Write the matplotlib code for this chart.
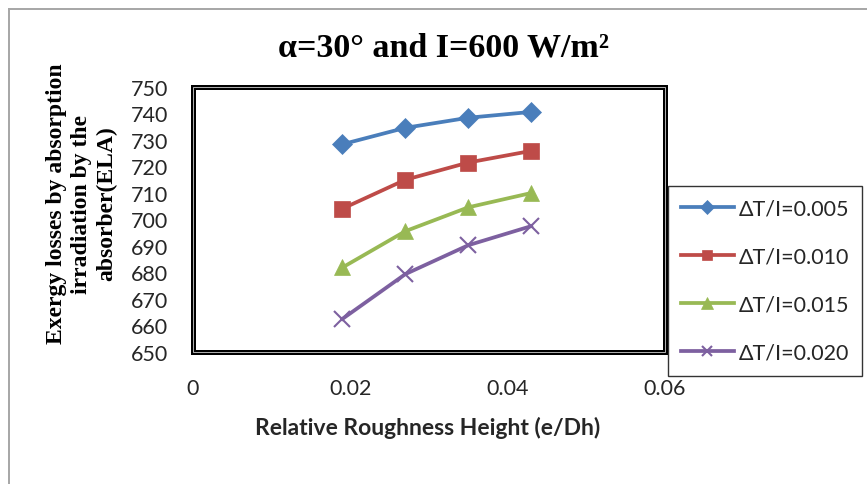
import matplotlib
matplotlib.use("Agg")
import matplotlib.pyplot as plt
from matplotlib.lines import Line2D
from matplotlib.patches import Rectangle

# ── Data ─────────────────────────────────────────────────────────
ROUGHNESS = [0.019, 0.027, 0.035, 0.043]

ELA_0005 = [728.4, 734.6, 738.4, 740.6]
ELA_0010 = [704.1, 715.0, 721.5, 725.9]
ELA_0015 = [681.9, 695.6, 704.6, 710.0]
ELA_0020 = [662.5, 679.4, 690.3, 697.5]

SERIES_LABELS = ['ΔT/I=0.005', 'ΔT/I=0.010', 'ΔT/I=0.015', 'ΔT/I=0.020']
X_TICKS = [0, 0.02, 0.04, 0.06]
X_TICK_LABELS = ['0', '0.02', '0.04', '0.06']
Y_TICKS = list(range(650, 751, 10))

# ── Style ────────────────────────────────────────────────────────
COLORS  = ['#4A7EBB', '#BE4B48', '#98B954', '#7D60A0']
MARKERS = ['D', 's', '^', 'x']
SIZES   = [10, 11, 12, 11]
SANS    = 'Lato'
SERIF   = 'Liberation Serif'
INK     = '#262626'

W, H = 867, 485
fig = plt.figure(figsize=(W / 100, H / 100), dpi=100)
fig.patch.set_facecolor('white')

# outer chart-area border (top and left edges only)
fig.add_artist(Line2D([9 / W, 1], [1 - 10 / H, 1 - 10 / H],
                      transform=fig.transFigure, color='#A6A6A6', lw=1.4))
fig.add_artist(Line2D([9 / W, 9 / W], [0, 1 - 10 / H],
                      transform=fig.transFigure, color='#A6A6A6', lw=1.4))

ax = fig.add_axes([193 / W, 1 - 353 / H, (665 - 193) / W, (353 - 88) / H])

series = [ELA_0005, ELA_0010, ELA_0015, ELA_0020]
for vals, color, marker, ms, label in zip(series, COLORS, MARKERS,
                                           SIZES, SERIES_LABELS):
    ax.plot(ROUGHNESS, vals, color=color, lw=2.7, marker=marker,
            markersize=ms, markeredgewidth=1.5 if marker == 'x' else 0.5,
            markeredgecolor=color, label=label)

ax.set_xlim(0, 0.06)
ax.set_ylim(650, 750)
ax.set_xticks(X_TICKS)
ax.set_xticklabels(X_TICK_LABELS)
ax.set_yticks(Y_TICKS)
ax.tick_params(axis='both', length=0, labelsize=15.5, colors=INK)
ax.tick_params(axis='y', pad=18)
ax.tick_params(axis='x', pad=19)
for lbl in ax.get_xticklabels() + ax.get_yticklabels():
    lbl.set_fontfamily(SANS)

# double-line plot frame
for spine in ax.spines.values():
    spine.set_edgecolor('black')
    spine.set_linewidth(3.6)
ax.add_patch(Rectangle((0, 0), 1, 1, transform=ax.transAxes, fill=False,
                       ec='#D0D0D0', lw=0.6, clip_on=False, zorder=5))

fig.text(443 / W, 1 - 48 / H, 'α=30° and I=600 W/m²', ha='center',
         va='center', fontsize=24.5, fontweight='bold', family=SERIF)

fig.text(82 / W, 1 - 204 / H,
         'Exergy losses by absorption\nirradiation by the\nabsorber(ELA)',
         rotation=90, ha='center', va='center', multialignment='center',
         fontsize=17, fontweight='bold', family=SERIF, linespacing=1.25)

fig.text(428 / W, 1 - 428 / H, 'Relative Roughness Height (e/Dh)',
         ha='center', va='center', fontsize=16.5, fontweight='bold',
         family=SANS, color=INK)

leg = fig.legend(loc='upper left', bbox_to_anchor=(668 / W, 1 - 187 / H),
                 bbox_transform=fig.transFigure, frameon=True, fancybox=False,
                 borderaxespad=0, labelspacing=1.3,
                 handlelength=2.45, handletextpad=0.25, borderpad=0.6,
                 markerscale=0.7, prop={'family': SANS, 'size': 15.5})
leg.get_frame().set_edgecolor('black')
leg.get_frame().set_linewidth(1.0)
for txt in leg.get_texts():
    txt.set_color(INK)

fig.savefig('out.png', dpi=100, facecolor=fig.get_facecolor())
